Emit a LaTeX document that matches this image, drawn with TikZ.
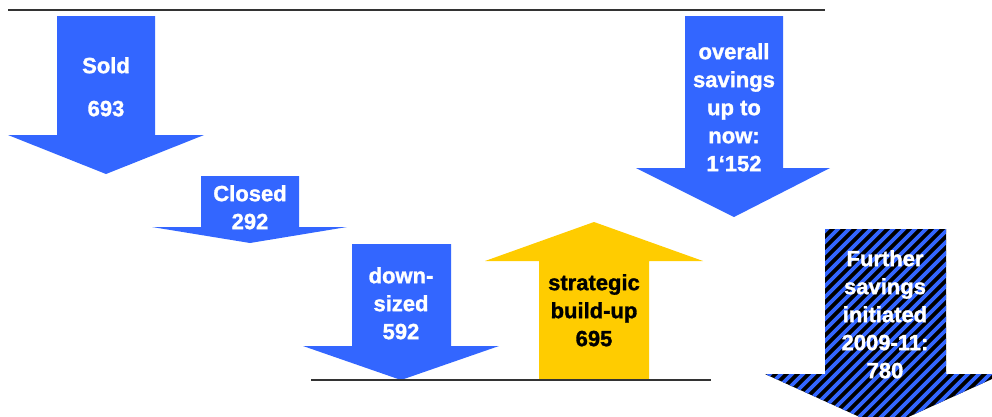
\documentclass[tikz,border=0pt]{standalone}
\usepackage{fontspec}
\setmainfont{Liberation Sans}[BoldFeatures={FakeBold=1.3}]
\definecolor{arrblue}{RGB}{51,102,255}
\definecolor{arryellow}{RGB}{255,204,0}
\definecolor{rulegray}{RGB}{51,51,51}
\begin{document}
\begin{tikzpicture}[x=1pt,y=-1pt,
	wlbl/.style={text=white,font=\bfseries\fontsize{22}{28}\selectfont,align=center,inner sep=0pt,anchor=north},
	blbl/.style={wlbl,text=black},
	rule/.style={rulegray,line width=1.5pt}]
	\useasboundingbox (0,0) rectangle (992,416);
	% top and bottom rules
	\draw[rule] (8,10) -- (825,10);
	% blue arrows down
	\fill[arrblue] (57,16) -- (155,16) -- (155,135) -- (204,135) -- (106,174) -- (8,135) -- (57,135) -- cycle;
	\fill[arrblue] (201,176) -- (299,176) -- (299,227) -- (347,227) -- (250,243) -- (152,227) -- (201,227) -- cycle;
	\fill[arrblue] (352,244) -- (451,244) -- (451,346) -- (499,346) -- (401,380) -- (303,346) -- (352,346) -- cycle;
	\fill[arrblue] (685,16) -- (783,16) -- (783,168) -- (830,168) -- (734,217) -- (636,168) -- (685,168) -- cycle;
	% yellow arrow up
	\fill[arryellow] (539,380) -- (649,380) -- (649,261) -- (703,261) -- (594,222) -- (485,261) -- (539,261) -- cycle;
	% striped arrow
	\begin{scope}
		\clip (825,229) -- (946,229) -- (946,374) -- (1003,374) -- (884,428) -- (765,374) -- (825,374) -- cycle;
		\fill[black] (760,220) rectangle (1010,430);
		\foreach \k in {550,561,...,1000}{\draw[arrblue,line width=3.8pt] (\k,440) -- ++(240,-240);}
	\end{scope}
	\draw[rule] (311,380) -- (711,380);
	% labels
	\node[wlbl] (sold) at (106,57) {Sold\\[15pt]693};
	\node[wlbl] (closed) at (250,185) {Closed\\292};
	\node[wlbl] (downsized) at (401,267) {down-\\sized\\592};
	\node[blbl] (buildup) at (594,274) {strategic\\build-up\\695};
	\node[wlbl] (overall) at (734,43) {overall\\savings\\up to\\now:\\1‘152};
	\node[wlbl] (further) at (885,250) {Further\\savings\\initiated\\2009-11:\\780};
\end{tikzpicture}
\end{document}
